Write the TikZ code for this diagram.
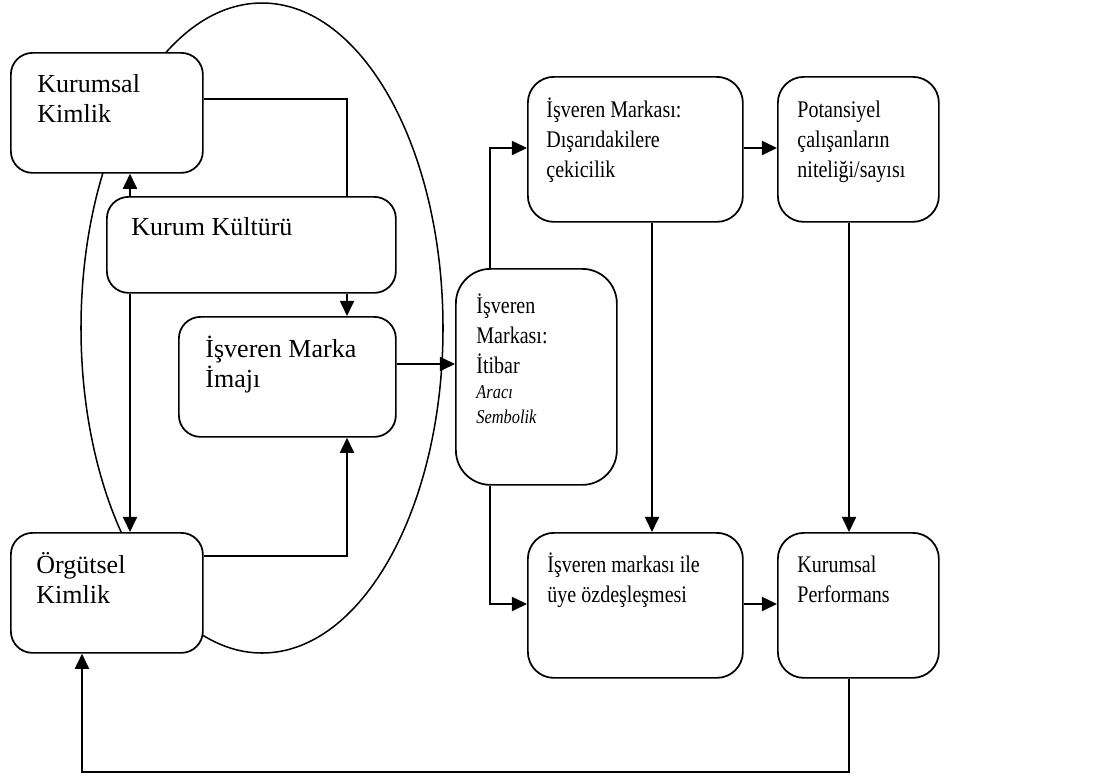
\documentclass[tikz,border=0pt]{standalone}
\usepackage{fontspec}
\setmainfont{Liberation Serif}
\newfontfamily\narrowserif[FakeStretch=0.84]{Liberation Serif}
\usepackage{tikz}
\usetikzlibrary{arrows.meta, calc}

\newcommand{\pxu}{0.4615pt}
\newcommand{\tp}{\rule{0pt}{11pt}}
\newcommand{\smit}[1]{{\fontsize{9}{11.5}\selectfont\itshape #1}}

\begin{document}
\begin{tikzpicture}[
        x=\pxu, y=-\pxu,
        box/.style={draw, line width=0.8pt, rounded corners=10pt, fill=white, anchor=north west, inner sep=0pt},
        txt/.style={anchor=north west, align=left, inner sep=0pt, font=\fontsize{12}{13.85}\selectfont},
        ntxt/.style={txt, font=\narrowserif\fontsize{11}{13.85}\selectfont},
        link/.style={line width=0.7pt},
        arr/.style={line width=0.9pt, -{Triangle[length=7pt, width=6.5pt]}}
    ]
        \useasboundingbox (0,0) rectangle (1120,776);

        % ellipse behind the left group
        \draw[line width=0.7pt] (262,328) ellipse [x radius=181, y radius=325];

        % boxes
        \node[box, minimum width=192*\pxu, minimum height=120*\pxu] (kurkim) at (10,52) {};
        \node[box, minimum width=289*\pxu, minimum height=96*\pxu] (kultur) at (106,196) {};
        \node[box, minimum width=217*\pxu, minimum height=120*\pxu] (imaj) at (178,316) {};
        \node[box, minimum width=192*\pxu, minimum height=120*\pxu] (orgkim) at (10,532) {};
        \node[box, rounded corners=16pt, minimum width=161*\pxu, minimum height=216*\pxu] (itibar) at (455,268) {};
        \node[box, rounded corners=12pt, minimum width=215*\pxu, minimum height=145*\pxu] (cekici) at (527,76) {};
        \node[box, rounded corners=12pt, minimum width=161*\pxu, minimum height=145*\pxu] (potans) at (777,76) {};
        \node[box, rounded corners=12pt, minimum width=215*\pxu, minimum height=145*\pxu] (uye) at (527,532) {};
        \node[box, rounded corners=12pt, minimum width=161*\pxu, minimum height=145*\pxu] (perf) at (777,532) {};

        % texts
        \node[txt] (kurkim-t) at ($(kurkim.north west)+(27,16)$) {\tp Kurumsal\\Kimlik};
        \node[txt] (kultur-t) at ($(kultur.north west)+(25,15)$) {\tp Kurum Kültürü};
        \node[txt] (imaj-t) at ($(imaj.north west)+(27,17)$) {\tp İşveren Marka\\İmajı};
        \node[txt] (orgkim-t) at ($(orgkim.north west)+(26,17)$) {\tp Örgütsel\\Kimlik};
        \node[ntxt] (itibar-t) at ($(itibar.north west)+(21,21)$) {\tp İşveren\\Markası:\\İtibar\\[-2.3pt]\smit{Aracı}\\[-2.3pt]\smit{Sembolik}};
        \node[ntxt] (cekici-t) at ($(cekici.north west)+(19,17)$) {\tp İşveren Markası:\\Dışarıdakilere\\çekicilik};
        \node[ntxt] (potans-t) at ($(potans.north west)+(20,17)$) {\tp Potansiyel\\çalışanların\\niteliği/sayısı};
        \node[ntxt] (uye-t) at ($(uye.north west)+(20,16)$) {\tp İşveren markası ile\\üye özdeşleşmesi};
        \node[ntxt] (perf-t) at ($(perf.north west)+(20,16)$) {\tp Kurumsal\\Performans};

        % connectors, left group
        \draw[link] (kurkim.east |- 0,99) -| (347,0 |- kultur.north);
        \draw[arr] (130,0 |- kultur.north) -- (130,0 |- kurkim.south);
        \draw[arr] (347,0 |- kultur.south) -- (347,0 |- imaj.north);
        \draw[arr] (130,0 |- kultur.south) -- (130,0 |- orgkim.north);
        \draw[arr] (orgkim.east |- 0,556) -| (347,0 |- imaj.south);
        \draw[arr] (imaj.east |- 0,364) -- (itibar.west |- 0,364);

        % connectors, right group
        \draw[arr] (490,0 |- itibar.north) |- (cekici.west |- 0,148);
        \draw[arr] (490,0 |- itibar.south) |- (uye.west |- 0,604);
        \draw[arr] (cekici.east |- 0,148) -- (potans.west |- 0,148);
        \draw[arr] (652,0 |- cekici.south) -- (652,0 |- uye.north);
        \draw[arr] (849,0 |- potans.south) -- (849,0 |- perf.north);
        \draw[arr] (uye.east |- 0,604) -- (perf.west |- 0,604);

        % feedback loop
        \draw[arr] (849,0 |- perf.south) -- (849,772) -| (82,0 |- orgkim.south);
    \end{tikzpicture}
\end{document}
